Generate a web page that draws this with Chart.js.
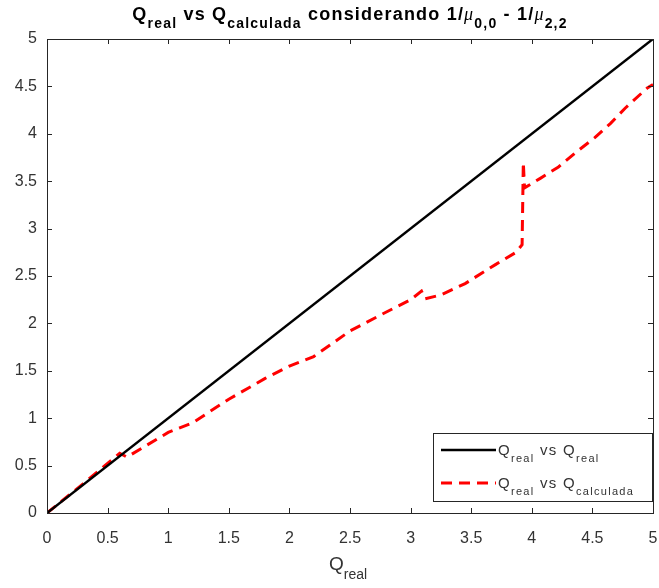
<!DOCTYPE html>
<html>
<head>
<meta charset="utf-8">
<script src="https://cdn.jsdelivr.net/npm/chart.js@4.4.1/dist/chart.umd.min.js"></script>
<style>
  html, body { margin: 0; padding: 0; background: #fff; }
  #grafico { display: block; }
</style>
</head>
<body>
<canvas id="grafico" width="659" height="588"></canvas>
<script>
// Referencia: Q_real contra si mismo (recta identidad)
const xReal = [0, 5];
const yReal = [0, 5];

// Q calculada a partir de 1/mu(0,0) - 1/mu(2,2)
const xCalc = [0, 0.3, 0.6, 0.66, 1.0, 1.2, 1.5, 1.8, 2.0, 2.2, 2.5, 2.8, 3.0, 3.09, 3.12, 3.25, 3.45, 3.7, 3.87, 3.92, 3.93, 3.94, 4.07, 4.22, 4.37, 4.52, 4.65, 4.77, 4.95, 5.0];
const yCalc = [0, 0.31, 0.63, 0.59, 0.85, 0.95, 1.2, 1.42, 1.55, 1.65, 1.92, 2.12, 2.25, 2.34, 2.26, 2.3, 2.42, 2.62, 2.75, 2.83, 3.7, 3.43, 3.53, 3.65, 3.81, 3.96, 4.11, 4.27, 4.48, 4.52];

// Marcas de los ejes
const xTicks = [0, 0.5, 1, 1.5, 2, 2.5, 3, 3.5, 4, 4.5, 5];
const yTicks = [0, 0.5, 1, 1.5, 2, 2.5, 3, 3.5, 4, 4.5, 5];

const FUENTE = '"Liberation Sans", Arial, sans-serif';
const GRIS = '#333333';

function puntos(xs, ys) {
    return xs.map((x, i) => ({ x: x, y: ys[i] }));
}

// Dibuja texto con subindices y letras griegas en cursiva
function textoRico(ctx, segs, x, base, size, bold, align, espacio) {
    const peso = bold ? 'bold ' : '';
    const tamSub = Math.round(size * 0.76);
    const fuenteDe = s => {
        const tam = s.sub ? tamSub : size;
        if (s.it) return `italic ${tam}px "Liberation Serif", serif`;
        return `${peso}${tam}px ${FUENTE}`;
    };
    ctx.letterSpacing = (espacio || 0) + 'px';
    let ancho = 0;
    segs.forEach(s => { ctx.font = fuenteDe(s); ancho += ctx.measureText(s.t).width; });
    let cx = align === 'center' ? x - ancho / 2 : x;
    ctx.textAlign = 'left';
    ctx.textBaseline = 'alphabetic';
    segs.forEach(s => {
        ctx.font = fuenteDe(s);
        ctx.fillText(s.t, cx, base + (s.sub ? Math.round(size * 0.45) : 0));
        cx += ctx.measureText(s.t).width;
    });
    ctx.letterSpacing = '0px';
}

const tituloSegs = [
    { t: 'Q' }, { t: 'real', sub: true }, { t: ' vs Q' }, { t: 'calculada', sub: true },
    { t: ' considerando 1/' }, { t: 'μ', it: true }, { t: '0,0', sub: true },
    { t: ' - 1/' }, { t: 'μ', it: true }, { t: '2,2', sub: true }
];
const ejeXSegs = [{ t: 'Q' }, { t: 'real', sub: true }];

const marcoMatlab = {
    id: 'marcoMatlab',
    afterDraw(chart) {
        const ctx = chart.ctx;
        const a = chart.chartArea;
        const sx = chart.scales.x, sy = chart.scales.y;
        ctx.save();

        // caja de ejes
        ctx.strokeStyle = '#262626';
        ctx.lineWidth = 1;
        ctx.strokeRect(Math.round(a.left) + 0.5, Math.round(a.top) + 0.5,
            Math.round(a.right - a.left), Math.round(a.bottom - a.top));

        // marcas hacia dentro en los cuatro lados
        const L = 5;
        ctx.beginPath();
        xTicks.forEach(v => {
            const px = Math.round(sx.getPixelForValue(v)) + 0.5;
            ctx.moveTo(px, a.bottom); ctx.lineTo(px, a.bottom - L);
            ctx.moveTo(px, a.top); ctx.lineTo(px, a.top + L);
        });
        yTicks.forEach(v => {
            const py = Math.round(sy.getPixelForValue(v)) + 0.5;
            ctx.moveTo(a.left, py); ctx.lineTo(a.left + L, py);
            ctx.moveTo(a.right, py); ctx.lineTo(a.right - L, py);
        });
        ctx.stroke();

        // titulo y etiqueta del eje x
        ctx.fillStyle = '#000';
        textoRico(ctx, tituloSegs, 350, 20, 18, true, 'center', 1.2);
        ctx.fillStyle = GRIS;
        textoRico(ctx, ejeXSegs, 348, 570, 19, false, 'center', 0);

        // leyenda dentro del area
        const lx = 433, ly = 433, lw = 219, lh = 68;
        ctx.fillStyle = '#fff';
        ctx.fillRect(lx, ly, lw, lh);
        ctx.strokeStyle = '#262626';
        ctx.strokeRect(lx + 0.5, ly + 0.5, lw, lh);
        const entradas = [
            { segs: [{ t: 'Q' }, { t: 'real', sub: true }, { t: ' vs Q' }, { t: 'real', sub: true }], y: 450 },
            { segs: [{ t: 'Q' }, { t: 'real', sub: true }, { t: ' vs Q' }, { t: 'calculada', sub: true }], y: 483 }
        ];
        entradas.forEach((e, i) => {
            const ds = chart.data.datasets[i];
            ctx.beginPath();
            ctx.strokeStyle = ds.borderColor;
            ctx.lineWidth = ds.borderWidth;
            ctx.setLineDash(ds.borderDash || []);
            ctx.moveTo(441, e.y); ctx.lineTo(496, e.y);
            ctx.stroke();
            ctx.setLineDash([]);
            ctx.fillStyle = GRIS;
            textoRico(ctx, e.segs, 498, e.y + 5, 15, false, 'left', 1.3);
        });
        ctx.restore();
    }
};

new Chart(document.getElementById('grafico'), {
    type: 'scatter',
    data: {
        datasets: [
            {
                label: 'Qreal vs Qreal',
                data: puntos(xReal, yReal),
                showLine: true,
                borderColor: '#000000',
                borderWidth: 2.5,
                pointRadius: 0,
                tension: 0
            },
            {
                label: 'Qreal vs Qcalculada',
                data: puntos(xCalc, yCalc),
                showLine: true,
                borderColor: '#ff0000',
                borderWidth: 3,
                borderDash: [11, 7],
                pointRadius: 0,
                tension: 0
            }
        ]
    },
    options: {
        responsive: false,
        animation: false,
        layout: { padding: { top: 39, right: 6, left: 0, bottom: 0 } },
        plugins: {
            legend: { display: false },
            tooltip: { enabled: false },
            title: { display: false }
        },
        scales: {
            x: {
                type: 'linear',
                min: 0, max: 5,
                afterFit: s => { s.height = 75; s.paddingLeft = 0; s.paddingRight = 0; },
                afterBuildTicks: s => { s.ticks = xTicks.map(v => ({ value: v })); },
                grid: { display: false, drawTicks: false },
                border: { display: false },
                ticks: {
                    color: GRIS,
                    padding: 16,
                    maxRotation: 0,
                    font: { family: FUENTE, size: 16 },
                    callback: v => String(v)
                }
            },
            y: {
                type: 'linear',
                min: 0, max: 5,
                afterFit: s => { s.width = 47; s.paddingTop = 0; s.paddingBottom = 0; },
                afterBuildTicks: s => { s.ticks = yTicks.map(v => ({ value: v })); },
                grid: { display: false, drawTicks: false },
                border: { display: false },
                ticks: {
                    color: GRIS,
                    padding: 10,
                    font: { family: FUENTE, size: 16 },
                    callback: v => String(v)
                }
            }
        }
    },
    plugins: [marcoMatlab]
});
</script>
</body>
</html>
